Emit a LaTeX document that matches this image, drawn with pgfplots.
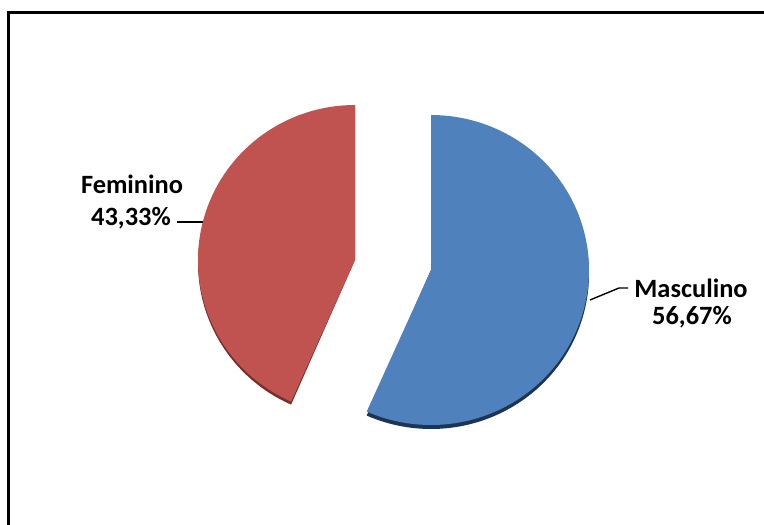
\documentclass[border=0pt]{standalone}
\usepackage{pgfplots}
\pgfplotsset{compat=1.18}
\usepackage{fontspec}
\setmainfont{Carlito}
\definecolor{blueS}{RGB}{79,129,189}
\definecolor{blueD}{RGB}{30,52,84}
\definecolor{redS}{RGB}{192,82,79}
\definecolor{redD}{RGB}{120,46,44}
\begin{document}
\begin{tikzpicture}
\begin{axis}[scale only axis, width=764bp, height=525bp,
  xmin=0, xmax=764, ymin=0, ymax=525, y dir=reverse,
  hide axis, clip=true]
\def\vM{56.67}
\def\vF{43.33}
\pgfmathsetmacro{\aM}{90-\vM*3.6}
\pgfmathsetmacro{\aF}{90+\vF*3.6}
% Masculino (blue) slice: thickness then top
\addplot[draw=none, fill=blueD, domain=\aM:90, samples=120]
  ({431+158*cos(x)}, {274-155*sin(x)}) -- (axis cs:431,270) -- cycle;
\addplot[draw=none, fill=blueS, domain=\aM:90, samples=120]
  ({431+158*cos(x)}, {270-155*sin(x)}) -- (axis cs:431,270) -- cycle;
% Feminino (red) slice
\addplot[draw=none, fill=redD, domain=90:\aF, samples=120]
  ({355+157*cos(x)}, {263-155*sin(x)}) -- (axis cs:355,260) -- cycle;
\addplot[draw=none, fill=redS, domain=90:\aF, samples=120]
  ({355+157*cos(x)}, {260-155*sin(x)}) -- (axis cs:355,260) -- cycle;
% labels
\node[anchor=base, font=\fontsize{26.5}{30}\selectfont\bfseries] at (axis cs:132,193) {Feminino};
\node[anchor=base, font=\fontsize{26.5}{30}\selectfont\bfseries] at (axis cs:131,225) {43,33\%};
\node[anchor=base, font=\fontsize{26.5}{30}\selectfont\bfseries] at (axis cs:691,297) {Masculino};
\node[anchor=base, font=\fontsize{26.5}{30}\selectfont\bfseries] at (axis cs:692,324) {56,67\%};
\draw[line width=1.4bp] (axis cs:177,222) -- (axis cs:203,222);
\draw[line width=1.4bp] (axis cs:590,300) -- (axis cs:619,288) -- (axis cs:628,288);
% frame
\draw[line width=2.8bp] (axis cs:8.5,525) -- (axis cs:8.5,12.5) -- (axis cs:764,12.5);
\end{axis}
\pgfresetboundingbox
\useasboundingbox (current axis.south west) rectangle (current axis.north east);
\end{tikzpicture}
\end{document}
